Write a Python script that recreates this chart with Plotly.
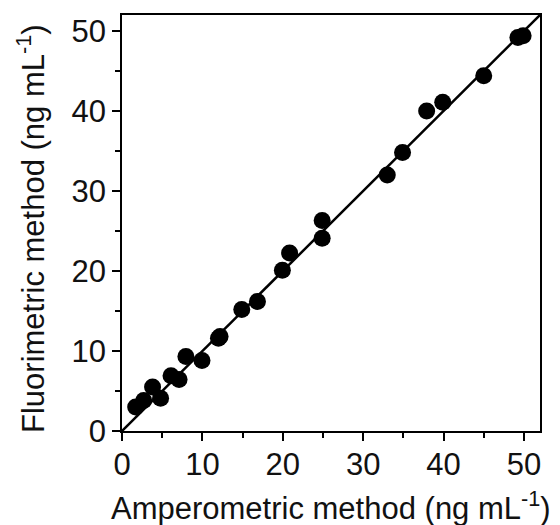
import plotly.graph_objects as go

# Data (ng/mL)
amperometric = [1.7, 2.7, 3.8, 4.8, 6.1, 7.1, 7.95, 9.95, 12.0, 12.2, 14.9, 16.85,
                19.95, 20.85, 24.9, 24.9, 33.0, 34.9, 37.9, 39.9, 45.0, 49.25, 49.9]
fluorimetric = [3.0, 3.8, 5.5, 4.1, 6.9, 6.45, 9.3, 8.8, 11.6, 11.8, 15.2, 16.2,
                20.1, 22.25, 26.3, 24.1, 32.0, 34.8, 40.0, 41.1, 44.4, 49.2, 49.4]

fit_slope = 1.0
fit_intercept = 0.0
fit_x = [0, 52]
fit_y = [fit_slope * v + fit_intercept for v in fit_x]

x_ticks = [0, 10, 20, 30, 40, 50]
y_ticks = [0, 10, 20, 30, 40, 50]
x_title = "Amperometric method (ng mL<sup>-1</sup>)"
y_title = "Fluorimetric method (ng mL<sup>-1</sup>)"

FONT = "Liberation Sans, Arial, sans-serif"

fig = go.Figure()
fig.add_trace(go.Scatter(x=fit_x, y=fit_y, mode="lines",
                         line=dict(color="black", width=2.5),
                         showlegend=False, hoverinfo="skip"))
fig.add_trace(go.Scatter(x=amperometric, y=fluorimetric, mode="markers",
                         marker=dict(color="black", size=17, symbol="circle",
                                     line=dict(width=0)),
                         showlegend=False))

axis_common = dict(
    range=[0, 52], showgrid=False, zeroline=False,
    showline=True, linecolor="black", linewidth=1.8, mirror=True,
    ticks="outside", ticklen=8, tickwidth=1.5, tickcolor="black",
    tickfont=dict(family=FONT, size=31, color="#111111"),
    minor=dict(ticks="outside", ticklen=5, tickwidth=1.5, tickcolor="black", dtick=5),
)

fig.update_xaxes(tickvals=x_ticks, ticklabelstandoff=-3, **axis_common)
fig.update_yaxes(tickvals=y_ticks, **axis_common)

# page body has an 8px margin; figure is sized so the window shows the same layout
OFF = 8
W, H = 560 - OFF, 525 - OFF
L, R, T, B = 114, 20, 7, 94
pw, ph = W - L - R, H - T - B

fig.update_layout(
    width=W, height=H,
    margin=dict(l=L, r=R, t=T, b=B, autoexpand=False),
    plot_bgcolor="white", paper_bgcolor="white",
    font=dict(family=FONT, size=31, color="#111111"),
    annotations=[
        dict(text=x_title, xref="paper", yref="paper",
             x=0.5, y=(H - B - (506 - OFF)) / ph, xanchor="center", yanchor="middle",
             showarrow=False, font=dict(family=FONT, size=31, color="#111111")),
        dict(text=y_title, xref="paper", yref="paper", textangle=-90,
             x=((31 - OFF) - L) / pw, y=(H - B - (229 - OFF)) / ph,
             xanchor="center", yanchor="middle",
             showarrow=False, font=dict(family=FONT, size=31, color="#111111")),
    ],
)

fig.write_html("out.html")
